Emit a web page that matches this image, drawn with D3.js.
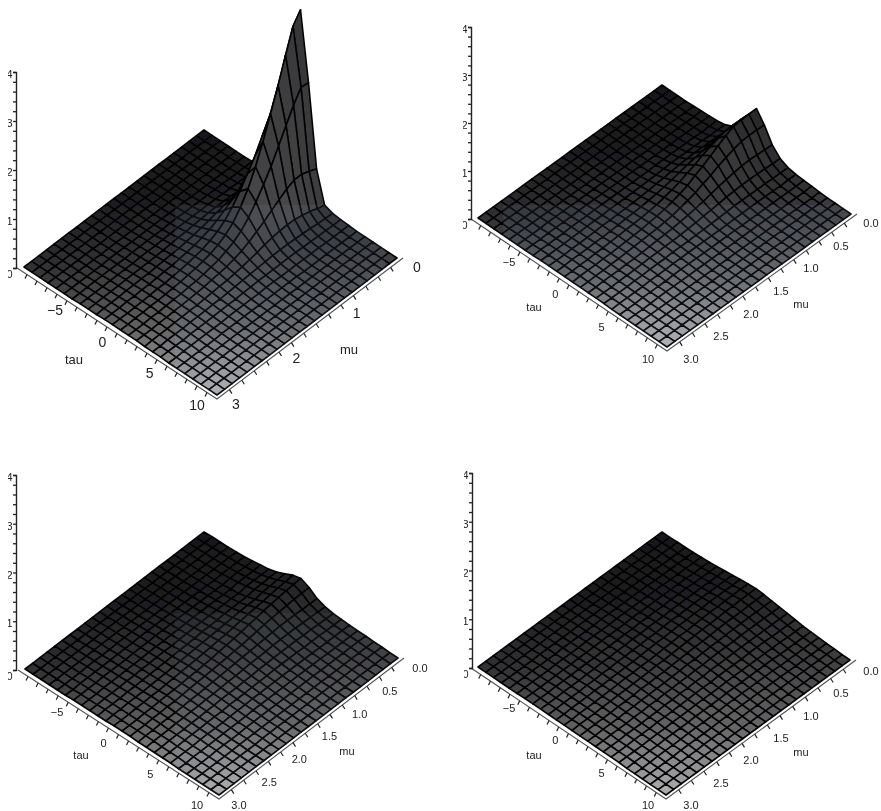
<!DOCTYPE html>
<html>
<head>
<meta charset="utf-8">
<title>Surface plots over tau and mu</title>
<script src="https://cdn.jsdelivr.net/npm/d3@7/dist/d3.min.js"></script>
<style>
html,body{margin:0;padding:0;background:#fff;overflow:hidden}
svg{display:block}
text{font-family:"Liberation Sans",Arial,sans-serif;fill:#222}
</style>
</head>
<body>
<svg id="chart" width="881" height="811"></svg>
<script>
// Axis domains and tick labels
const tauDomain = [-10, 10];
const muDomain = [0, 3];
const zDomain = [0, 4];
const tauLabels = [-5, 0, 5, 10];
const muLabelsWhole = [0, 1, 2, 3];
const muLabelsHalf = [0, 0.5, 1, 1.5, 2, 2.5, 3];
const zLabels = [0, 1, 2, 3, 4];
const gridCells = 24;

// Surface heights in hundredths of a z unit.
// Each row is one mu grid line; entries run outward from the tau = 0 grid line.
const panelA = [
[376,238,73,10,4,2,1],
[354,240,80,14,5,2,1],
[306,215,85,20,6,3,1],
[256,185,85,24,8,3,1],
[210,155,78,27,9,4,2],
[165,125,68,28,10,4,2],
[125,100,58,27,11,5,2],
[92,76,47,25,11,5,2],
[66,56,38,22,11,5,2,1],
[46,40,29,18,10,5,2,1],
[33,29,22,15,9,5,3,1],
[24,22,17,12,8,5,3,1],
[18,16,13,10,7,4,2,1],
[14,13,11,8,6,4,2,1],
[11,10,9,7,5,3,2,1],
[9,8,7,6,4,3,2,1],
[7,7,6,5,4,3,2,1],
[6,5,5,4,3,2,1,1],
[5,5,4,4,3,2,1,1],
[4,4,4,3,3,2,1],
[4,3,3,3,2,2,1],
[3,3,3,2,2,1,1],
[3,2,2,2,2,1,1],
[2,2,2,2,1,1],
[2,2,2,1,1,1]];
const panelB = [
[85,62,32,15,7,4,3,2,1],
[85,63,33,15,7,4,2,1],
[84,63,34,16,7,3,2,1],
[82,62,35,17,8,4,2,1],
[75,58,34,17,8,4,2,1],
[65,52,32,17,8,4,2,1],
[56,46,29,16,8,4,2,1],
[46,38,26,15,8,4,2,1],
[38,32,22,13,7,4,2,1],
[29,25,18,11,6,3,2,1],
[23,20,15,10,6,3,2,1],
[18,16,12,8,5,3,2,1],
[14,12,10,7,5,3,2,1],
[11,10,8,6,4,3,2,1],
[9,8,7,5,4,3,2,1],
[7,7,6,5,4,3,2,1],
[6,6,5,4,3,3,2,1],
[5,5,4,4,3,2,2,1],
[4,4,3,3,3,2,1,1],
[3,3,3,2,2,2,1,1],
[3,3,2,2,2,1,1,1],
[2,2,2,2,1,1,1],
[2,2,2,1,1,1],
[2,1,1,1,1,1],
[1,1,1,1,1]];
const panelC = [
[34,26,14,8,5,4,3,2,2,1,1],
[33,26,15,9,6,4,3,2,2,1,1],
[32,25,15,10,6,4,3,2,2,1,1],
[30,24,16,10,7,5,3,2,2,1,1],
[28,23,16,11,7,5,3,2,2,1,1],
[26,22,16,11,8,5,4,3,2,1,1],
[23,20,15,11,8,6,4,3,2,1,1],
[21,18,14,11,8,6,4,3,2,1,1],
[18,16,13,10,8,6,4,3,2,1,1],
[16,14,12,9,7,6,4,3,2,1,1],
[14,13,11,9,7,5,4,3,2,1,1],
[12,11,10,8,6,5,4,3,2,1,1],
[10,10,9,7,6,5,4,3,2,1,1],
[9,9,8,7,5,4,4,3,2,1,1],
[8,8,7,6,5,4,3,3,2,1,1],
[7,7,6,5,5,4,3,2,2,1,1],
[6,6,5,5,4,3,3,2,2,1,1],
[5,5,5,4,4,3,2,2,1,1],
[5,4,4,4,3,3,2,2,1,1],
[4,4,3,3,3,2,2,1,1],
[3,3,3,3,2,2,2,1,1],
[3,3,3,2,2,2,1,1],
[2,2,2,2,2,1,1,1],
[2,2,2,2,1,1,1],
[2,2,1,1,1,1,1]];
// Panel C leans toward negative tau on its first rows
const panelCLeft = [
[34,30,22,15,10,8,5,3,2,1,1,1],
[33,28,21,15,10,7,5,3,2,1,1],
[32,27,20,14,10,7,5,3,2,1,1],
[30,25,19,14,10,7,5,3,2,1,1]];
const panelD = [
[15,14,12,10,8,6,4,3,2,1,1],
[15,14,12,10,8,6,4,3,2,1,1],
[15,14,12,10,8,6,4,3,2,1,1],
[14,13,12,10,8,6,5,3,2,1,1],
[14,13,12,10,8,7,5,3,2,1,1],
[13,13,11,10,8,7,5,4,2,1,1],
[12,12,11,9,8,7,5,4,3,2,1],
[12,11,10,9,8,6,5,4,3,2,1],
[11,10,10,9,7,6,5,4,3,2,1],
[10,10,9,8,7,6,5,4,3,2,1],
[9,9,8,7,7,6,5,4,3,2,1],
[8,8,8,7,6,5,4,4,3,2,1],
[7,7,7,6,6,5,4,3,3,2,1],
[7,6,6,6,5,5,4,3,2,2,1],
[6,6,5,5,5,4,4,3,2,2,1],
[5,5,5,5,4,4,3,3,2,1,1],
[5,5,4,4,4,3,3,2,2,1,1],
[4,4,4,4,3,3,3,2,2,1,1],
[4,3,3,3,3,3,2,2,1,1],
[3,3,3,3,2,2,2,2,1,1],
[3,2,2,2,2,2,2,1,1],
[2,2,2,2,2,2,1,1,1],
[2,2,2,2,1,1,1,1],
[2,1,1,1,1,1,1,1],
[1,1,1,1,1,1,1]];

// Page layout of the four panels (corners in pixels)
const panels = [
 {heights: panelA, left: panelA, back:[204,130], right:[397,258], west:[24,267], zx:16, ztop:72,
  size:14, muLabels: muLabelsWhole, muFmt:d3.format("d"),
  tauLine:[[55,310],[197,405]], muLine:[[417,267],[236,404]], tauTitle:[74,359], muTitle:[349,349],
  band:[[175,205,210,195,"#090c10"]]},
 {heights: panelB, left: panelB, back:[662,85], right:[851,214], west:[478,218], zx:471, ztop:27,
  size:11, muLabels: muLabelsHalf, muFmt:d3.format(".1f"),
  tauLine:[[509,262],[648,359]], muLine:[[871,223],[691,359]], tauTitle:[534,307], muTitle:[801,304],
  band:[[503,205,378,150,"#090c10"]]},
 {heights: panelC, left: panelCLeft, back:[204,532], right:[398,658], west:[25,669], zx:16, ztop:475,
  size:11, muLabels: muLabelsHalf, muFmt:d3.format(".1f"),
  tauLine:[[57,712],[197,805]], muLine:[[420,668],[239,805]], tauTitle:[81,755], muTitle:[347,751],
  band:[[175,613,240,190,"#050709"]]},
 {heights: panelD, left: panelD, back:[662,532], right:[850,660], west:[478,667], zx:472, ztop:473,
  size:11, muLabels: muLabelsHalf, muFmt:d3.format(".1f"),
  tauLine:[[509,708],[648,805]], muLine:[[871,671],[691,805]], tauTitle:[534,755], muTitle:[801,752],
  band:[]}
];

const svg = d3.select("#chart");
const defs = svg.append("defs");
defs.append("filter").attr("id","soft").attr("x",0).attr("y",0).attr("width",1).attr("height",1)
  .append("feGaussianBlur").attr("stdDeviation",0.75);

const root = svg.append("g").attr("filter","url(#soft)");
root.append("rect").attr("width",881).attr("height",811).attr("fill","#fff");

const baseGray = d3.scaleLinear().domain([0,0.25,0.5,0.75,1]).range([24,30,56,100,176]).clamp(true);
const indexToTau = d3.scaleLinear().domain([0,gridCells]).range(tauDomain);
const indexToMu = d3.scaleLinear().domain([0,gridCells]).range(muDomain);

panels.forEach((p,pi)=>{
  const g = root.append("g");
  const tauVec = [p.right[0]-p.back[0], p.right[1]-p.back[1]];
  const muVec = [p.west[0]-p.back[0], p.west[1]-p.back[1]];
  const south = [p.back[0]+tauVec[0]+muVec[0], p.back[1]+tauVec[1]+muVec[1]];
  const tauT = d3.scaleLinear().domain(tauDomain).range([0,1]);
  const muT = d3.scaleLinear().domain(muDomain).range([0,1]);

  const axisWest = [p.west[0]-7, p.west[1]+1];
  const axisSouth = [south[0], south[1]+4];
  const axisEast = [p.right[0]+6, p.right[1]];
  const zScale = d3.scaleLinear().domain(zDomain).range([axisWest[1], p.ztop]);
  const zUnit = (axisWest[1]-p.ztop)/(zDomain[1]-zDomain[0]);

  const height = (i,j)=>{
    const k = Math.abs(i-12);
    const table = (i<12 && p.left[j]) ? p.left : p.heights;
    const v = table[j] ? table[j][k] : 0;
    return (v===undefined?0:v)/100;
  };
  const project = (i,j)=>{
    const a = tauT(indexToTau(i)), b = muT(indexToMu(j));
    return [p.back[0]+a*tauVec[0]+b*muVec[0],
            p.back[1]+a*tauVec[1]+b*muVec[1]-height(i,j)*zUnit];
  };

  const cells = [];
  for(let j=0;j<gridCells;j++) for(let i=0;i<gridCells;i++) cells.push({i,j});
  cells.sort((a,b)=>(a.i+a.j)-(b.i+b.j));
  const line = d3.line().curve(d3.curveLinearClosed);

  g.append("g").selectAll("path").data(cells).join("path")
    .attr("d",d=>line([project(d.i,d.j),project(d.i+1,d.j),project(d.i+1,d.j+1),project(d.i,d.j+1)]))
    .attr("fill",d=>{
      const u = (d.i+d.j+1)/(2*gridCells);
      const v = (d.i-d.j)/gridCells;
      const dz = Math.abs(height(d.i+1,d.j)-height(d.i,d.j))+Math.abs(height(d.i,d.j+1)-height(d.i,d.j));
      const slope = Math.min(1,dz*zUnit/30);
      const gray = baseGray(u)+v*8*(1-Math.abs(2*u-1))+slope*22;
      return d3.rgb(gray,gray,gray+2).formatHex();
    })
    .attr("stroke","#050505").attr("stroke-width",1.6).attr("stroke-linejoin","round");

  // Faint block-edge tint seen in the reference scan
  g.selectAll("rect.tint").data(p.band).join("rect").attr("class","tint")
    .attr("x",d=>d[0]).attr("y",d=>d[1]).attr("width",d=>d[2]).attr("height",d=>d[3])
    .attr("fill",d=>d[4]).style("mix-blend-mode","screen");

  // tau and mu axes
  const tauAxisX = d3.scaleLinear().domain(tauDomain).range([axisWest[0],axisSouth[0]]);
  const tauAxisY = d3.scaleLinear().domain(tauDomain).range([axisWest[1],axisSouth[1]]);
  const muAxisX = d3.scaleLinear().domain(muDomain).range([axisEast[0],axisSouth[0]]);
  const muAxisY = d3.scaleLinear().domain(muDomain).range([axisEast[1],axisSouth[1]]);
  g.append("path").attr("d",d3.line()([axisWest,axisSouth,axisEast]))
    .attr("fill","none").attr("stroke","#555").attr("stroke-width",1.1);
  g.append("g").selectAll("line").data(d3.range(tauDomain[0]+1,tauDomain[1])).join("line")
    .attr("x1",d=>tauAxisX(d)).attr("y1",d=>tauAxisY(d))
    .attr("x2",d=>tauAxisX(d)-2).attr("y2",d=>tauAxisY(d)+4)
    .attr("stroke","#222").attr("stroke-width",1.2);
  g.append("g").selectAll("line").data(d3.range(0.2,3,0.2)).join("line")
    .attr("x1",d=>muAxisX(d)).attr("y1",d=>muAxisY(d))
    .attr("x2",d=>muAxisX(d)+2.5).attr("y2",d=>muAxisY(d)+4)
    .attr("stroke","#222").attr("stroke-width",1.2);

  // z axis through d3.axisLeft, with its digits cut off by the page crop
  const zAxis = d3.axisLeft(zScale).tickValues(d3.range(0,4.01,0.2)).tickSize(3).tickFormat("");
  const zg = g.append("g").attr("transform",`translate(${p.zx},0)`).call(zAxis);
  zg.select(".domain").attr("stroke","#222").attr("stroke-width",1.4);
  zg.selectAll(".tick line").attr("stroke","#222").attr("stroke-width",1.3);
  const clipId = "zclip"+pi;
  defs.append("clipPath").attr("id",clipId).append("rect")
    .attr("x",p.zx-8).attr("y",p.ztop-20).attr("width",4.5).attr("height",axisWest[1]-p.ztop+40);
  g.append("g").attr("clip-path",`url(#${clipId})`).selectAll("text").data(zLabels).join("text")
    .attr("x",p.zx-3.5).attr("y",d=>zScale(d)+(d===0?10:6)).attr("text-anchor","end")
    .attr("font-size",11).text(d=>d);

  // tick labels placed on their own lines via scales
  const labelX = d3.scaleLinear().domain([-5,10]).range([p.tauLine[0][0],p.tauLine[1][0]]);
  const labelY = d3.scaleLinear().domain([-5,10]).range([p.tauLine[0][1],p.tauLine[1][1]]);
  const mLabelX = d3.scaleLinear().domain(muDomain).range([p.muLine[0][0],p.muLine[1][0]]);
  const mLabelY = d3.scaleLinear().domain(muDomain).range([p.muLine[0][1],p.muLine[1][1]]);
  g.append("g").selectAll("text").data(tauLabels).join("text")
    .attr("x",d=>labelX(d)).attr("y",d=>labelY(d)).attr("dy","0.35em")
    .attr("text-anchor","middle").attr("font-size",p.size)
    .text(d=>d<0?"\u2212"+Math.abs(d):d);
  g.append("g").selectAll("text").data(p.muLabels).join("text")
    .attr("x",d=>mLabelX(d)).attr("y",d=>mLabelY(d)).attr("dy","0.35em")
    .attr("text-anchor","middle").attr("font-size",p.size)
    .text(d=>p.muFmt(d));
  g.append("text").attr("x",p.tauTitle[0]).attr("y",p.tauTitle[1]).attr("dy","0.35em")
    .attr("text-anchor","middle").attr("font-size",p.size===14?13:11).text("tau");
  g.append("text").attr("x",p.muTitle[0]).attr("y",p.muTitle[1]).attr("dy","0.35em")
    .attr("text-anchor","middle").attr("font-size",p.size===14?13:11).text("mu");
});
</script>
</body>
</html>
